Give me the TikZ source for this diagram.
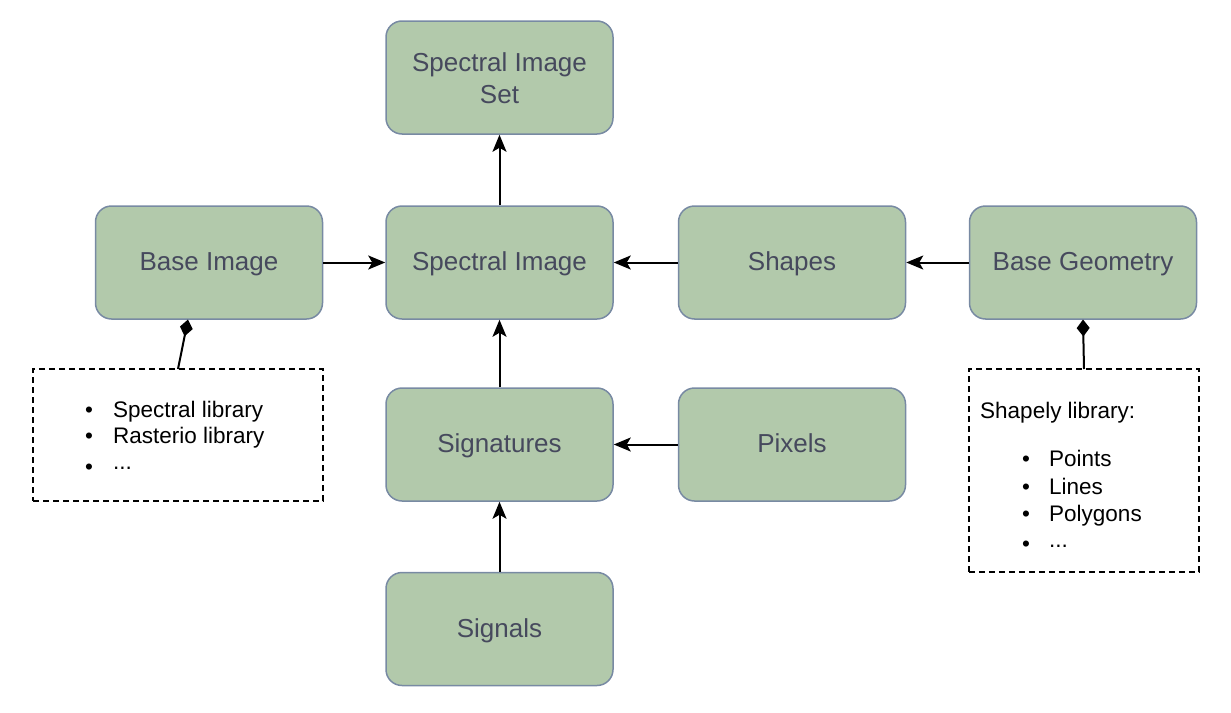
\documentclass[tikz,border=0pt]{standalone}
\usepackage{fontspec}
\setmainfont{Liberation Sans}
\usetikzlibrary{arrows.meta}
\definecolor{boxfill}{HTML}{B2C9AB}
\definecolor{boxline}{HTML}{788AA3}
\definecolor{boxtext}{HTML}{46495D}
\tikzset{
  greenbox/.style={draw=boxline, fill=boxfill, line width=1.5pt, rounded corners=16pt,
    minimum width=227pt, minimum height=113pt, text=boxtext, align=center,
    font=\fontsize{26}{32}\selectfont, inner sep=0pt},
  onebox/.style={greenbox, text height=19pt, text depth=3pt},
  notebox/.style={draw=black, line width=1.5pt, dash pattern=on 6pt off 4pt, inner sep=0pt},
  flow/.style={-{Stealth[length=17pt,width=14pt,inset=4pt]}, line width=2pt, black},
  assoc/.style={{Diamond[length=17pt,width=13pt]}-, line width=2pt, black},
  listtext/.style={anchor=base west, font=\fontsize{22.5}{27}\selectfont, inner sep=0pt, text=black},
}
\begin{document}
\begin{tikzpicture}[x=1pt,y=-1pt]
\useasboundingbox (0,0) rectangle (1231,712);
\node[greenbox, text height=51.5pt, text depth=0pt] (set) at (499.5,77.5) {Spectral Image\\Set};
\node[onebox] (base) at (209,262.5) {Base Image};
\node[onebox] (spec) at (499.5,262.5) {Spectral Image};
\node[onebox] (shapes) at (792,262.5) {Shapes};
\node[onebox] (geom) at (1083,262.5) {Base Geometry};
\node[onebox] (sig) at (499.5,444.5) {Signatures};
\node[onebox] (pix) at (792,444.5) {Pixels};
\node[onebox] (signals) at (499.5,629) {Signals};

\node[notebox, minimum width=290pt, minimum height=132pt] (lnote) at (178,435) {};
\node[notebox, minimum width=230pt, minimum height=203pt] (rnote) at (1084,470.5) {};

\coordinate (ltop) at (178,369);
\coordinate (lbot) at (188,319.5);
\coordinate (rtop) at (1084,369);
\coordinate (rbot) at (1083,319.5);

\draw[flow] (spec.north) -- (set.south);
\draw[flow] (base.east) -- (spec.west);
\draw[flow] (shapes.west) -- (spec.east);
\draw[flow] (geom.west) -- (shapes.east);
\draw[flow] (sig.north) -- (spec.south);
\draw[flow] (pix.west) -- (sig.east);
\draw[flow] (signals.north) -- (sig.south);
\draw[assoc] (lbot) -- (ltop);
\draw[assoc] (rbot) -- (rtop);

\node[listtext] (lb1) at (85,417) {•};
\node[listtext] (l1) at (113,417) {Spectral library};
\node[listtext] (lb2) at (85,443) {•};
\node[listtext] (l2) at (113,443) {Rasterio library};
\node[listtext] (lb3) at (85,474) {•};
\node[listtext] (l3) at (113,469) {...};

\node[listtext] (r0) at (980,418) {Shapely library:};
\node[listtext] (rb1) at (1022,466) {•};
\node[listtext] (r1) at (1049,466) {Points};
\node[listtext] (rb2) at (1022,494) {•};
\node[listtext] (r2) at (1049,494) {Lines};
\node[listtext] (rb3) at (1022,521) {•};
\node[listtext] (r3) at (1049,521) {Polygons};
\node[listtext] (rb4) at (1022,551) {•};
\node[listtext] (r4) at (1049,547) {...};
\end{tikzpicture}
\end{document}
